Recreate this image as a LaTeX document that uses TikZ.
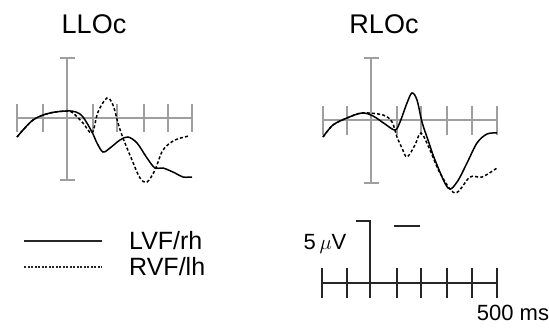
\documentclass[tikz,border=0pt]{standalone}
\usepackage{fontspec}
\setmainfont{Liberation Sans}
\begin{document}
\begin{tikzpicture}[x=1pt,y=-1pt,
  axisline/.style={draw=gray!75, line width=1.3pt},
  scaleline/.style={draw=black!85, line width=1.2pt},
  wave/.style={draw=black, line width=1.5pt, smooth, tension=0.55},
  dwave/.style={wave, dash pattern=on 3pt off 2.2pt},
  title/.style={font=\fontsize{27}{30}\selectfont, inner sep=0pt},
  legtext/.style={font=\fontsize{25}{28}\selectfont, inner sep=0pt, anchor=west},
  smalltext/.style={font=\fontsize{22}{25}\selectfont, inner sep=0pt}]
\useasboundingbox (0,0) rectangle (549,327);

% titles
\node[title] (tl) at (94,24) {LLOc};
\node[title] (tr) at (384,24) {RLOc};

% left axes
\draw[axisline] (17,118) -- (193,118);
\foreach \x in {17,43,93,117,144,168,192} \draw[axisline] (\x,104) -- (\x,132);
\draw[axisline] (67,58) -- (67,180);
\draw[axisline] (60,58) -- (75,58);
\draw[axisline] (60,180) -- (75,180);

% right axes
\draw[axisline] (323,120) -- (498,120);
\foreach \x in {323,347,397,421,447,472,497} \draw[axisline] (\x,106) -- (\x,135);
\draw[axisline] (371,58) -- (371,183);
\draw[axisline] (364,58) -- (379,58);
\draw[axisline] (364,183) -- (379,183);

% left waves
\draw[wave] plot coordinates {(17,137) (33,120) (50,113) (67,111) (76,112) (83,117) (92,132) (97,143) (103,152) (110,148) (120,140) (128,137) (137,143) (147,158) (155,168) (163,168) (175,173) (183,177) (192,177)};
\draw[dwave] plot coordinates {(17,137) (33,120) (50,113) (67,111) (73,113) (83,123) (92,133) (98,112) (107,98) (113,105) (118,123) (123,138) (132,160) (140,178) (147,182) (155,170) (163,150) (175,140) (189,136)};

% right waves
\draw[wave] plot coordinates {(323,137) (333,125) (347,118) (362,113) (373,116) (385,124) (395,130) (400,122) (407,103) (412,93) (417,100) (422,122) (428,140) (435,160) (448,188) (457,182) (467,163) (477,143) (487,134) (497,133)};
\draw[dwave] plot coordinates {(323,137) (333,125) (347,118) (362,113) (383,115) (392,122) (397,137) (402,148) (407,157) (415,145) (421,133) (430,150) (440,173) (455,193) (470,177) (482,177) (497,168)};

% legend
\coordinate (l1a) at (24,241);
\coordinate (l1b) at (102,241);
\coordinate (l2a) at (24,267);
\coordinate (l2b) at (102,267);
\draw[black!85, line width=1.3pt] (l1a) -- (l1b);
\draw[black!85, line width=1.3pt, dash pattern=on 2.2pt off 1.3pt] (l2a) -- (l2b);
\node[legtext] (lvf) at (129,241) {LVF/rh};
\node[legtext] (rvf) at (129,267) {RVF/lh};

% scale
\draw[scaleline] (322,283) -- (497,283);
\foreach \x in {322,347,397,421,447,472,497} \draw[scaleline] (\x,268) -- (\x,298);
\draw[scaleline] (356,221) -- (370,221) -- (370,298);
\draw[scaleline] (394,226) -- (420,226);
\node[smalltext] (uv) at (325,244) {5\,$\mu$V};
\node[smalltext] (ms) at (513,313) {500 ms};
\end{tikzpicture}
\end{document}
